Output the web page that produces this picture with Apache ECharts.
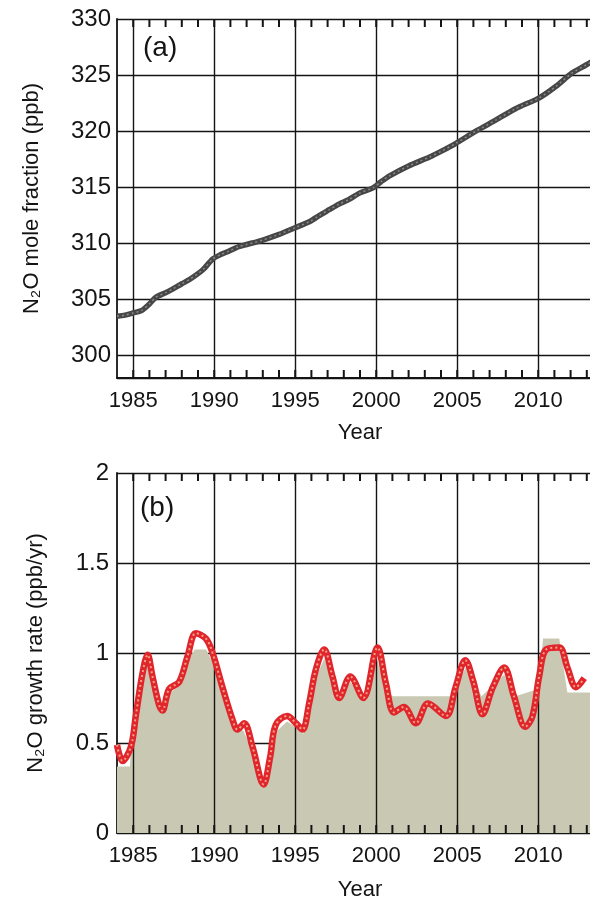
<!DOCTYPE html>
<html>
<head>
<meta charset="utf-8">
<script src="https://cdn.jsdelivr.net/npm/echarts@6/dist/echarts.min.js"></script>
<style>
html,body{margin:0;padding:0;background:#fff;}
#c{width:590px;height:901px;}
</style>
</head>
<body>
<div id="c"></div>
<script>
// ---- Panel (a): N2O mole fraction (ppb) ----
const yearsA = [1984.0,1984.5,1985.0,1985.5,1986.0,1986.4,1987.0,1987.4,1988.0,1988.5,1989.3,1989.9,1990.4,1990.9,1991.5,1992.0,1993.0,1994.0,1995.0,1995.9,1996.5,1997.1,1997.7,1998.3,1999.0,1999.8,2000.3,2000.8,2002.0,2003.3,2004.0,2004.9,2006.15,2007.4,2008.6,2010.1,2011.1,2012.1,2012.95,2013.3];
const n2oA   = [303.5,303.6,303.8,304.0,304.6,305.2,305.6,305.9,306.4,306.8,307.65,308.6,309.0,309.3,309.7,309.9,310.3,310.8,311.4,311.95,312.5,313.0,313.5,313.9,314.5,314.95,315.5,316.0,316.9,317.7,318.2,318.9,320.0,321.0,322.0,323.0,324.0,325.2,325.9,326.2];

// ---- Panel (b): N2O growth rate (ppb/yr), red curve ----
const yearsB = [1984.0,1984.34,1984.86,1985.16,1985.58,1985.89,1986.19,1986.6,1986.8,1987.22,1987.84,1988.35,1988.87,1989.49,1989.9,1990.51,1991.13,1991.44,1991.85,1992.36,1993.05,1993.45,1993.8,1994.5,1995.04,1995.45,1995.86,1996.28,1996.79,1997.3,1997.72,1998.4,1999.2,2000.08,2000.6,2001.1,2001.7,2002.45,2003.2,2004.3,2004.9,2005.5,2006.0,2006.56,2007.2,2007.9,2008.5,2009.2,2009.65,2010.06,2010.5,2011.3,2011.8,2012.33,2012.84];
const rateB  = [0.49,0.40,0.48,0.65,0.89,0.99,0.87,0.71,0.68,0.80,0.84,0.98,1.11,1.08,1.00,0.81,0.63,0.575,0.61,0.48,0.27,0.42,0.60,0.65,0.61,0.575,0.72,0.91,1.02,0.87,0.75,0.87,0.75,1.03,0.83,0.67,0.70,0.61,0.72,0.65,0.81,0.96,0.84,0.66,0.81,0.92,0.76,0.59,0.65,0.87,1.02,1.03,0.92,0.81,0.86];

// ---- Panel (b): grey shaded growth rate ----
const fillYears = [1984.0,1984.8,1984.9,1985.3,1985.9,1986.3,1986.8,1987.2,1987.8,1988.3,1988.8,1989.5,1989.9,1990.5,1991.1,1991.8,1992.4,1993.0,1993.5,1993.9,1994.5,1995.0,1995.5,1995.9,1996.3,1996.8,1997.3,1997.7,1998.4,1999.3,2000.0,2000.6,2001.0,2004.6,2005.6,2006.5,2007.9,2008.6,2010.0,2010.3,2011.3,2011.6,2011.8,2014.0];
const fillVals  = [0.37,0.37,0.60,0.78,0.95,0.80,0.67,0.77,0.82,0.95,1.02,1.02,0.95,0.78,0.60,0.57,0.44,0.26,0.40,0.57,0.62,0.59,0.55,0.69,0.87,0.97,0.85,0.73,0.84,0.73,0.98,0.80,0.76,0.76,0.93,0.76,0.88,0.76,0.80,1.08,1.08,0.90,0.78,0.78];

// ---- axis texts / gridline and tick years ----
const gridYears = [1985,1990,1995,2000,2005,2010];
const tickYears = [1985,1986,1987,1988,1989,1990,1991,1992,1993,1994,1995,1996,1997,1998,1999,2000,2001,2002,2003,2004,2005,2006,2007,2008,2009,2010,2011,2012,2013];
const yNameA = 'N\u2082O mole fraction (ppb)';
const yNameB = 'N\u2082O growth rate (ppb/yr)';
const xName = 'Year';
const panelLabels = ['(a)', '(b)'];

const FONT = "'Liberation Sans', Arial, Helvetica, sans-serif";
const INK = '#141414';
const RANGE_A = [298, 330];
const RANGE_B = [0, 2];

function pairs(xs, ys){ return xs.map((x,i)=>[x, ys[i]]); }

function mainX(gridIndex, labelMargin, nameGap){
  return {
    type:'value', gridIndex, min:1984, max:2014, interval:1, position:'bottom',
    axisLine:{show:true, onZero:false, lineStyle:{color:INK, width:1.8}},
    axisTick:{show:false},
    axisLabel:{show:true, color:INK, fontFamily:FONT, fontSize:22, margin:labelMargin,
               formatter:(v)=> (gridYears.indexOf(v) >= 0 ? String(v) : '')},
    splitLine:{show:false},
    name:xName, nameLocation:'middle', nameGap:nameGap,
    nameTextStyle:{color:INK, fontFamily:FONT, fontSize:22}
  };
}
function gridSeries(xi, yi){
  return {type:'line', xAxisIndex:xi, yAxisIndex:yi, data:[], silent:true, z:0,
    markLine:{silent:true, symbol:'none', label:{show:false}, animation:false,
      lineStyle:{color:INK, width:1.4, type:'solid'},
      data: gridYears.map(y=>({xAxis:y}))}};
}
function tickSeries(xi, yi, yVal, off){
  return {type:'scatter', xAxisIndex:xi, yAxisIndex:yi, silent:true, clip:false, z:7,
    data: tickYears.map(y=>[y, yVal]), symbol:'rect', symbolSize:[2, 8], symbolOffset:[0, off],
    itemStyle:{color:INK, opacity:1}};
}

const chart = echarts.init(document.getElementById('c'), null, {renderer:'canvas'});
chart.setOption({
  backgroundColor:'#ffffff',
  animation:false,
  textStyle:{fontFamily:FONT},
  title:[
    {text:panelLabels[0], left:138, top:29, textStyle:{color:INK, fontFamily:FONT, fontSize:28, fontWeight:'normal'}},
    {text:panelLabels[1], left:135, top:489, textStyle:{color:INK, fontFamily:FONT, fontSize:28, fontWeight:'normal'}}
  ],
  grid:[
    {left:117, top:19, width:486, height:359, outerBoundsMode:'none', containLabel:false},
    {left:117, top:473, width:486, height:360, outerBoundsMode:'none', containLabel:false}
  ],
  xAxis:[
    mainX(0, 12, 44),
    mainX(1, 12, 46)
  ],
  yAxis:[
    {type:'value', gridIndex:0, min:RANGE_A[0], max:RANGE_A[1], splitNumber:6,
     axisLine:{show:true, lineStyle:{color:INK, width:1.8}}, axisTick:{show:false},
     axisLabel:{color:INK, fontFamily:FONT, fontSize:24, margin:6, showMinLabel:false},
     splitLine:{show:true, lineStyle:{color:INK, width:1.4}},
     name:yNameA, nameLocation:'middle', nameGap:74, nameRotate:90,
     nameTextStyle:{color:INK, fontFamily:FONT, fontSize:22}},
    {type:'value', gridIndex:1, min:RANGE_B[0], max:RANGE_B[1], interval:0.5,
     axisLine:{show:true, lineStyle:{color:INK, width:1.8}}, axisTick:{show:false},
     axisLabel:{color:INK, fontFamily:FONT, fontSize:24, margin:8},
     splitLine:{show:true, lineStyle:{color:INK, width:1.4}},
     name:yNameB, nameLocation:'middle', nameGap:70, nameRotate:90,
     nameTextStyle:{color:INK, fontFamily:FONT, fontSize:22}}
  ],
  series:[
    gridSeries(0,0),
    {type:'line', xAxisIndex:0, yAxisIndex:0, data:pairs(yearsA,n2oA), smooth:0.25, showSymbol:false,
     lineStyle:{color:'#474747', width:5.5}, z:5},
    {type:'line', xAxisIndex:0, yAxisIndex:0, data:pairs(yearsA,n2oA), smooth:0.25, showSymbol:false,
     lineStyle:{color:'#8a8a8a', width:1.5, type:[2,3]}, z:6},
    tickSeries(0,0,RANGE_A[0],-4), tickSeries(0,0,RANGE_A[1],4),
    {type:'line', xAxisIndex:1, yAxisIndex:1, data:pairs(fillYears,fillVals), showSymbol:false,
     lineStyle:{width:0, color:'#c9c9b3'}, areaStyle:{color:'#c9c9b3', opacity:1}, z:1},
    gridSeries(1,1),
    {type:'line', xAxisIndex:1, yAxisIndex:1, data:pairs(yearsB,rateB), smooth:0.35, showSymbol:false,
     lineStyle:{color:'#e0252c', width:6.5}, z:5},
    {type:'line', xAxisIndex:1, yAxisIndex:1, data:pairs(yearsB,rateB), smooth:0.35, showSymbol:false,
     lineStyle:{color:'#f6a383', width:2, type:[2,3]}, z:6},
    tickSeries(1,1,RANGE_B[0],-4), tickSeries(1,1,RANGE_B[1],4)
  ]
});
</script>
</body>
</html>
